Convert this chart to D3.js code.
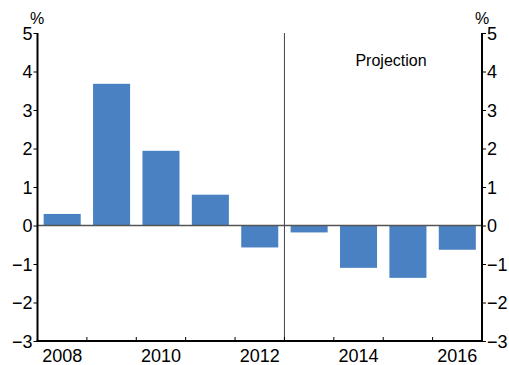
<!DOCTYPE html>
<html>
<head>
<meta charset="utf-8">
<script src="https://cdn.jsdelivr.net/npm/d3@7"></script>
<style>
  html, body { margin: 0; padding: 0; background: #fff; }
  svg { display: block; font-family: "Liberation Sans", Arial, sans-serif; }
</style>
</head>
<body>
<svg id="chart" width="509" height="365"></svg>
<script>
// Annual change, per cent
const years = [2008, 2009, 2010, 2011, 2012, 2013, 2014, 2015, 2016];
const values = [0.3, 3.68, 1.94, 0.8, -0.57, -0.18, -1.1, -1.36, -0.63];
const yTicks = [5, 4, 3, 2, 1, 0, -1, -2, -3];
const yearLabels = [2008, 2010, 2012, 2014, 2016];
const projectionStart = 2013;
const projectionLabel = "Projection";
const unitLabel = "%";

const svg = d3.select("#chart");
const plotLeft = 37.5, plotRight = 482, plotTop = 33, plotBottom = 341;

const x = d3.scaleBand().domain(years).range([plotLeft, plotRight]).paddingInner(0.25).paddingOuter(0.125);
const xEdge = d3.scaleLinear().domain([years[0], years[years.length - 1] + 1]).range([plotLeft, plotRight]);
const y = d3.scaleLinear().domain([-3, 5]).range([plotBottom, plotTop]);

const fmt = d => d < 0 ? "\u2212" + Math.abs(d) : String(d);

// bars
svg.append("g").selectAll("rect").data(years).join("rect")
  .attr("x", d => x(d))
  .attr("width", x.bandwidth())
  .attr("y", (d, i) => y(Math.max(0, values[i])))
  .attr("height", (d, i) => Math.abs(y(values[i]) - y(0)))
  .attr("fill", "#4a81c3");

// zero line
svg.append("line")
  .attr("x1", plotLeft).attr("x2", plotRight)
  .attr("y1", y(0)).attr("y2", y(0))
  .attr("stroke", "#555").attr("stroke-width", 1.5);

// projection divider
svg.append("line")
  .attr("x1", xEdge(projectionStart)).attr("x2", xEdge(projectionStart))
  .attr("y1", plotTop).attr("y2", plotBottom)
  .attr("stroke", "#444").attr("stroke-width", 1);

svg.append("text")
  .attr("x", 391).attr("y", 66)
  .attr("text-anchor", "middle")
  .attr("font-size", 16)
  .text(projectionLabel);

// left and right value axes
const yAxisL = d3.axisLeft(y).tickValues(yTicks).tickSize(4).tickPadding(1).tickFormat(fmt);
const gL = svg.append("g").attr("transform", `translate(${plotLeft},0)`).call(yAxisL);
const yAxisR = d3.axisRight(y).tickValues(yTicks).tickSize(4).tickPadding(1).tickFormat(fmt);
const gR = svg.append("g").attr("transform", `translate(${plotRight},0)`).call(yAxisR);

[gL, gR].forEach(g => {
  g.select(".domain").attr("stroke", "#000").attr("stroke-width", 2)
    .attr("d", `M0,${plotTop}V${plotBottom}`);
  g.selectAll(".tick line").attr("stroke", "#000").attr("stroke-width", 1);
  g.selectAll(".tick text").attr("font-size", 18).attr("fill", "#000")
    .attr("font-family", "Liberation Sans, Arial, sans-serif").attr("dy", "0.36em");
});

// bottom axis: ticks at year boundaries, labels centred on bars
const edges = d3.range(years[0], years[years.length - 1] + 2);
const gB = svg.append("g");
gB.append("line")
  .attr("x1", plotLeft - 1).attr("x2", plotRight + 1)
  .attr("y1", plotBottom).attr("y2", plotBottom)
  .attr("stroke", "#000").attr("stroke-width", 2);
gB.selectAll("line.tk").data(edges).join("line").attr("class", "tk")
  .attr("x1", d => xEdge(d)).attr("x2", d => xEdge(d))
  .attr("y1", plotBottom).attr("y2", plotBottom - 4)
  .attr("stroke", "#000").attr("stroke-width", 1);
gB.selectAll("text").data(yearLabels).join("text")
  .attr("x", d => x(d) + x.bandwidth() / 2)
  .attr("y", 362)
  .attr("text-anchor", "middle")
  .attr("font-size", 18)
  .text(d => d);

// unit labels
svg.append("text").attr("x", 37).attr("y", 24).attr("text-anchor", "middle")
  .attr("font-size", 16).text(unitLabel);
svg.append("text").attr("x", 482).attr("y", 24).attr("text-anchor", "middle")
  .attr("font-size", 16).text(unitLabel);
</script>
</body>
</html>
